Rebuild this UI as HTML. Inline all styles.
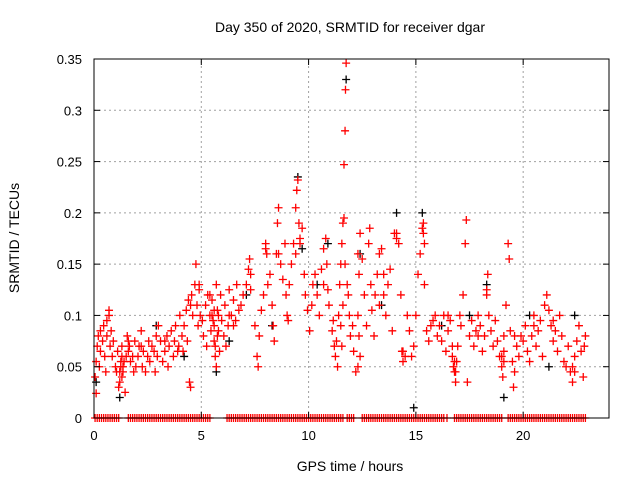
<!DOCTYPE html>
<html><head><meta charset="utf-8"><style>
body{margin:0;background:#fff;}
svg{display:block;font-family:"Liberation Sans",sans-serif;}
</style></head><body>
<svg id="chart" width="640" height="480">
<text x="350" y="32" font-size="14" text-anchor="middle">Day 350 of 2020, SRMTID for receiver dgar</text>
<text x="350" y="471" font-size="14" text-anchor="middle">GPS time / hours</text>
<text transform="translate(19,238) rotate(-90)" font-size="14" text-anchor="middle">SRMTID / TECUs</text>
<g id="grid"></g>
<g id="zeros"></g>
<g id="black"></g>
<g id="red"></g>
<g id="axes"></g>
</svg>
<script>
const xTicks=[0,5,10,15,20];
const yTicks=[0,0.05,0.1,0.15,0.2,0.25,0.3,0.35];
const yTickLabels=["0","0.05","0.1","0.15","0.2","0.25","0.3","0.35"];
const redPts=[[0.05,0.04],[0.1,0.055],[0.1,0.024],[0.15,0.07],[0.2,0.08],[0.25,0.05],[0.3,0.065],[0.4,0.075],[0.45,0.09],[0.5,0.06],[0.55,0.045],[0.6,0.08],[0.7,0.1],[0.7,0.105],[0.75,0.07],[0.8,0.085],[0.85,0.06],[0.9,0.075],
[1.0,0.05],[1.05,0.045],[1.1,0.065],[1.15,0.03],[1.2,0.035],[1.25,0.05],[1.3,0.04],[1.3,0.07],[1.35,0.045],[1.4,0.055],[1.45,0.025],[1.5,0.06],[1.55,0.08],[1.6,0.065],[1.65,0.07],[1.7,0.055],[1.8,0.06],[1.85,0.045],[1.9,0.075],[1.95,0.05],
[2.05,0.06],[2.1,0.07],[2.2,0.085],[2.25,0.05],[2.3,0.065],[2.4,0.045],[2.5,0.06],[2.55,0.075],[2.6,0.055],[2.7,0.07],[2.8,0.065],[2.85,0.045],[2.9,0.08],[2.95,0.06],
[3.0,0.09],[3.1,0.075],[3.2,0.055],[3.3,0.065],[3.4,0.08],[3.45,0.05],[3.5,0.07],[3.6,0.085],[3.7,0.06],[3.75,0.075],[3.8,0.09],[3.9,0.065],[3.95,0.07],
[4.0,0.1],[4.1,0.08],[4.15,0.065],[4.2,0.09],[4.3,0.105],[4.35,0.075],[4.4,0.115],[4.45,0.035],[4.5,0.03],[4.55,0.12],[4.6,0.1],[4.7,0.13],[4.75,0.15],[4.8,0.11],[4.85,0.09],[4.9,0.125],[4.95,0.1],
[5.05,0.095],[5.1,0.08],[5.2,0.11],[5.25,0.07],[5.3,0.12],[5.4,0.1],[5.45,0.085],[5.5,0.115],[5.55,0.095],[5.6,0.075],[5.65,0.06],[5.7,0.05],[5.7,0.13],[5.75,0.105],[5.8,0.085],[5.85,0.065],[5.9,0.12],[5.95,0.095],
[6.05,0.08],[6.1,0.11],[6.15,0.07],[6.25,0.09],[6.3,0.125],[6.4,0.1],[6.5,0.115],[6.6,0.095],[6.65,0.13],[6.75,0.105],[6.85,0.11],[6.95,0.12],
[7.1,0.13],[7.2,0.145],[7.25,0.155],[7.3,0.125],[7.5,0.09],[7.6,0.06],[7.65,0.05],[7.7,0.08],[7.8,0.105],[7.9,0.12],
[8.0,0.17],[8.05,0.16],[8.1,0.13],[8.2,0.14],[8.3,0.11],[8.35,0.09],[8.4,0.075],[8.5,0.16],[8.55,0.19],[8.6,0.205],[8.7,0.15],[8.8,0.135],[8.9,0.17],[8.95,0.12],
[9.0,0.1],[9.05,0.095],[9.1,0.13],[9.2,0.15],[9.3,0.17],[9.4,0.205],[9.45,0.222],[9.5,0.232],[9.55,0.19],[9.6,0.175],[9.7,0.185],[9.8,0.14],[9.85,0.12],[9.95,0.105],
[10.05,0.085],[10.15,0.11],[10.2,0.13],[10.3,0.14],[10.4,0.12],[10.5,0.1],[10.6,0.145],[10.7,0.165],[10.8,0.175],[10.85,0.15],[10.9,0.125],[10.95,0.11],
[11.1,0.085],[11.15,0.095],[11.2,0.07],[11.25,0.06],[11.3,0.075],[11.35,0.05],[11.4,0.1],[11.45,0.13],[11.5,0.15],[11.55,0.17],[11.6,0.19],[11.65,0.247],[11.7,0.28],[11.72,0.32],[11.75,0.346],[11.8,0.13],[11.85,0.12],[11.9,0.1],[11.95,0.08],
[12.05,0.09],[12.1,0.065],[12.2,0.045],[12.3,0.16],[12.35,0.14],[12.4,0.18],[12.5,0.155],[12.6,0.12],[12.7,0.09],[12.8,0.17],[12.85,0.185],[12.9,0.13],[12.95,0.105],
[13.05,0.08],[13.1,0.12],[13.2,0.14],[13.3,0.16],[13.4,0.165],[13.5,0.12],[13.6,0.1],[13.7,0.13],[13.8,0.145],[13.9,0.085],
[14.0,0.18],[14.1,0.175],[14.2,0.17],[14.3,0.12],[14.35,0.065],[14.4,0.055],[14.5,0.06],[14.6,0.1],[14.7,0.085],[14.8,0.06],[14.9,0.07],
[15.0,0.1],[15.1,0.14],[15.2,0.16],[15.3,0.185],[15.35,0.19],[15.4,0.13],[15.5,0.085],[15.6,0.075],[15.7,0.09],[15.8,0.095],[15.9,0.1],
[16.0,0.08],[16.1,0.09],[16.2,0.075],[16.3,0.1],[16.4,0.065],[16.5,0.085],[16.6,0.095],[16.7,0.06],[16.75,0.05],[16.8,0.045],[16.85,0.035],[16.9,0.055],[16.95,0.07],
[17.05,0.1],[17.1,0.09],[17.2,0.12],[17.3,0.17],[17.35,0.193],[17.4,0.035],[17.5,0.08],[17.6,0.095],[17.7,0.07],[17.8,0.085],[17.9,0.1],
[18.0,0.09],[18.1,0.065],[18.2,0.08],[18.3,0.125],[18.35,0.14],[18.4,0.1],[18.5,0.085],[18.6,0.07],[18.7,0.095],[18.8,0.075],[18.9,0.06],
[19.0,0.05],[19.05,0.04],[19.1,0.065],[19.2,0.11],[19.3,0.17],[19.35,0.155],[19.4,0.085],[19.5,0.055],[19.55,0.03],[19.6,0.045],[19.7,0.07],[19.8,0.06],[19.9,0.08],
[20.0,0.075],[20.1,0.09],[20.2,0.065],[20.3,0.055],[20.4,0.08],[20.5,0.1],[20.6,0.07],[20.7,0.085],[20.8,0.095],[20.9,0.06],
[21.0,0.11],[21.1,0.12],[21.2,0.105],[21.3,0.09],[21.4,0.075],[21.5,0.085],[21.6,0.065],[21.7,0.1],[21.8,0.08],[21.9,0.055],
[22.0,0.05],[22.1,0.07],[22.2,0.045],[22.3,0.035],[22.4,0.06],[22.5,0.075],[22.6,0.09],[22.7,0.065],[22.8,0.04],[22.85,0.07]];
const redPtsExtra=[[0.3,0.085],[0.6,0.095],[1.2,0.045],[1.25,0.055],[1.3,0.06],[1.35,0.05],[1.6,0.075],[2.2,0.07],[3.3,0.075],[4.5,0.11],[4.9,0.13],[5.4,0.12],[5.5,0.1],[5.6,0.09],[5.6,0.105],[5.65,0.07],[5.75,0.08],[5.8,0.1],[6.3,0.1],[6.5,0.09],[7.3,0.14],[8.0,0.165],[8.6,0.16],[9.4,0.16],[9.6,0.17],[10.7,0.13],[11.5,0.09],[11.55,0.07],[11.6,0.11],[11.65,0.195],[11.7,0.15],[12.3,0.1],[12.35,0.08],[12.4,0.06],[12.3,0.05],[13.3,0.11],[13.5,0.14],[14.1,0.18],[14.4,0.065],[15.35,0.18],[15.4,0.17],[16.5,0.1],[16.7,0.07],[16.8,0.055],[16.85,0.045],[17.9,0.08],[18.3,0.12],[19.0,0.06],[19.1,0.055],[19.1,0.08],[19.6,0.08],[20.5,0.09],[21.4,0.095],[22.3,0.05],[22.4,0.045],[22.9,0.08]];
const blackPts=[[0.1,0.035],[1.2,0.02],[2.9,0.09],[4.2,0.06],[5.7,0.045],[6.3,0.075],[7.1,0.12],[8.3,0.09],[9.5,0.235],[9.7,0.165],[10.4,0.13],[10.9,0.17],[11.75,0.33],[12.4,0.16],[13.4,0.11],[14.1,0.2],[14.9,0.01],[15.3,0.2],[16.2,0.09],[17.5,0.1],[18.3,0.13],[19.1,0.02],[20.3,0.1],[21.2,0.05],[22.4,0.1]];
const zeroTimes=[0.05,0.15,0.25,0.35,0.45,0.55,0.65,0.75,0.85,0.95,1.05,1.15,1.6,1.7,1.8,1.9,2.0,2.1,2.2,2.3,2.4,2.5,2.6,2.7,2.8,2.9,3.0,3.1,3.2,3.3,3.4,3.5,3.6,3.7,3.8,3.9,4.0,4.1,4.2,4.3,4.4,4.5,4.6,4.7,4.8,4.9,5.0,5.1,5.2,5.3,5.4,6.2,6.3,6.4,6.5,6.6,6.7,6.8,6.9,7.0,7.1,7.2,7.3,7.4,7.5,7.6,7.7,7.8,7.9,8.0,8.1,8.2,8.3,8.4,8.5,8.6,8.7,8.8,8.9,9.0,9.1,9.2,9.3,9.4,9.5,9.6,9.7,9.8,9.9,10.0,10.1,10.2,10.3,10.4,10.5,10.6,10.7,10.8,10.9,11.0,11.1,11.2,11.3,11.4,11.5,11.6,11.8,11.9,12.0,12.1,12.5,12.6,12.7,12.8,12.9,13.0,13.1,13.2,13.3,13.4,13.5,13.6,13.7,13.8,13.9,14.0,14.1,14.2,14.3,14.4,14.5,14.6,14.7,14.8,14.9,15.0,15.1,15.2,15.3,15.4,15.5,15.6,15.7,15.8,15.9,16.0,16.1,16.2,16.3,16.45,16.8,16.9,17.0,17.1,17.2,17.3,17.4,17.5,17.6,17.7,17.8,17.9,18.0,18.1,18.2,18.3,18.4,18.5,18.6,18.7,18.8,18.9,19.0,19.3,19.4,19.5,19.6,19.7,19.8,19.9,20.0,20.1,20.2,20.3,20.4,20.5,20.6,20.7,20.8,20.9,21.0,21.1,21.2,21.3,21.4,21.5,21.6,21.7,21.8,21.9,22.0,22.1,22.2,22.3,22.4,22.5,22.6,22.7,22.8,22.9];
const X0=94,X1=609,Y0=418,Y1=59,XMAX=24,YMAX=0.35;
function sx(t){return X0+(X1-X0)*t/XMAX;}
function sy(v){return Y0-(Y0-Y1)*v/YMAX;}
const NS="http://www.w3.org/2000/svg";
function mk(tag,attrs,parent){const e=document.createElementNS(NS,tag);for(const k in attrs)e.setAttribute(k,attrs[k]);parent.appendChild(e);return e;}
const grid=document.getElementById('grid'),axes=document.getElementById('axes');
xTicks.forEach((t,i)=>{const x=sx(t);
 if(t>0){const g=mk('line',{x1:x,y1:Y0,x2:x,y2:Y1,stroke:'#a0a0a0','stroke-dasharray':'2,3'},grid);
 
 }
 mk('line',{x1:x,y1:Y0,x2:x,y2:Y0-6,stroke:'#000'},axes);
 mk('line',{x1:x,y1:Y1,x2:x,y2:Y1+6,stroke:'#000'},axes);
 const l=mk('text',{x:x,y:Y0+22,'font-size':13,'text-anchor':'middle'},axes);l.textContent=String(t);
 
 });
yTicks.forEach((v,i)=>{const y=sy(v);
 if(v>0&&v<YMAX){const g=mk('line',{x1:X0,y1:y,x2:X1,y2:y,stroke:'#a0a0a0','stroke-dasharray':'2,3'},grid);
 
 }
 mk('line',{x1:X0,y1:y,x2:X0+6,y2:y,stroke:'#000'},axes);
 mk('line',{x1:X1,y1:y,x2:X1-6,y2:y,stroke:'#000'},axes);
 const l=mk('text',{x:X0-12,y:y+5,'font-size':13,'text-anchor':'end'},axes);l.textContent=yTickLabels[i];
 
 });
const frame=mk('rect',{x:X0,y:Y1,width:X1-X0,height:Y0-Y1,fill:'none',stroke:'#000'},axes);


function plus(parent,t,v,color,name){const x=sx(t),y=sy(v);
 const p=mk('path',{d:`M${x-4} ${y}H${x+4}M${x} ${y-4}V${y+4}`,stroke:color,'stroke-width':1.3,fill:'none'},parent);
 
 }
zeroTimes.forEach(t=>plus(document.getElementById('zeros'),t,0,'#f00','zero-point'));
blackPts.forEach(p=>plus(document.getElementById('black'),p[0],p[1],'#000','black-point'));
redPts.forEach(p=>plus(document.getElementById('red'),p[0],p[1],'#f00','red-point'));
redPtsExtra.forEach(p=>plus(document.getElementById('red'),p[0],p[1],'#f00','red-point'));
</script>
</body></html>
